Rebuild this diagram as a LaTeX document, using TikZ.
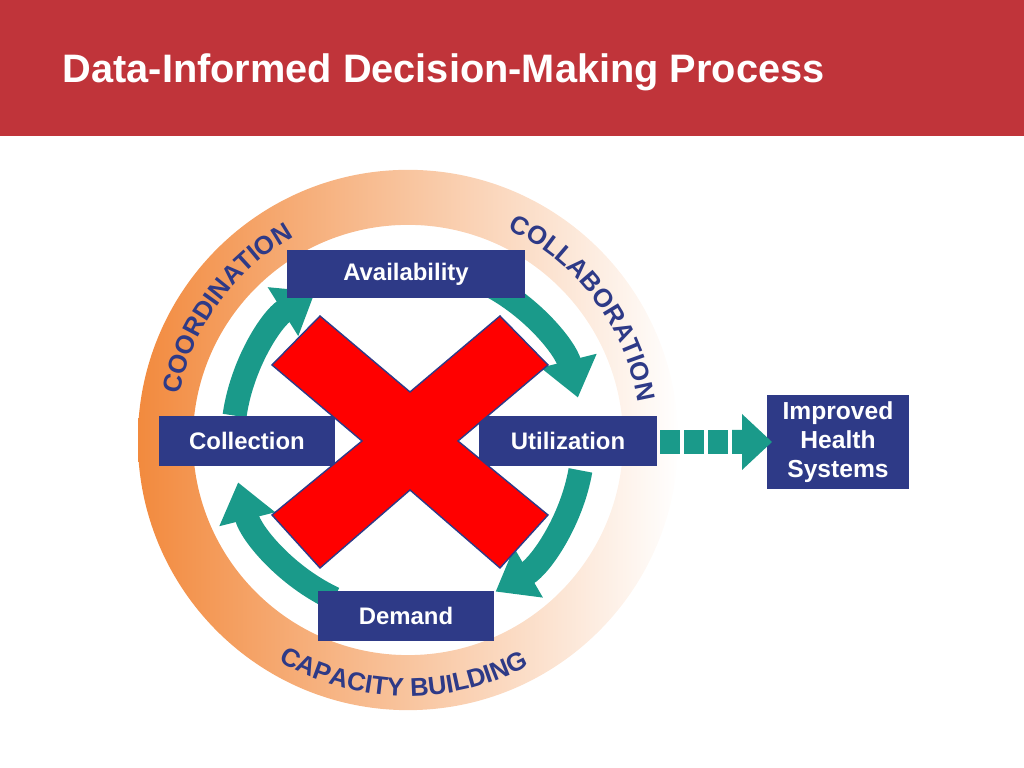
\documentclass[tikz,border=0pt]{standalone}
\usepackage{fontspec}
\setmainfont{Liberation Sans}
\usetikzlibrary{decorations.text,arrows.meta}
\definecolor{hdr}{HTML}{C0343A}
\definecolor{navy}{HTML}{2E3A87}
\definecolor{teal}{HTML}{1A9A8A}
\definecolor{ora}{HTML}{F28A3E}
\tikzset{
 box/.style={fill=navy,text=white,font=\bfseries\fontsize{6.8}{8}\selectfont,inner sep=0,align=center},
 cyc/.style={teal,line width=0.24cm,-{Triangle[width=0.55cm,length=0.38cm]}},
 ringtext/.style={decorate,decoration={text along path,text={#1},text align=center,text color=navy}},
}
\begin{document}
\begin{tikzpicture}[x=0.01cm,y=-0.01cm]
\useasboundingbox (0,0) rectangle (1024,768);
\fill[hdr] (0,0) rectangle (1024,136);
\node[anchor=west,inner sep=0,text=white,font=\bfseries\fontsize{11.3}{13}\selectfont] (title) at (62,72) {Data-Informed Decision-Making Process};
\coordinate (c) at (408,440);
\begin{scope}[even odd rule]
\clip (c) circle[radius=2.7cm] (c) circle[radius=2.15cm];
\shade[left color=ora,right color=white] (138,168) rectangle (680,712);
\end{scope}
% ring texts
\path[ringtext={|\bfseries\fontsize{7.3}{8}\selectfont|COORDINATION}] (c) ++(170:2.33cm) arc[start angle=170,end angle=118,radius=2.33cm];
\path[ringtext={|\bfseries\fontsize{7.3}{8}\selectfont|COLLABORATION}] (c) ++(66:2.33cm) arc[start angle=66,end angle=8,radius=2.33cm];
\path[ringtext={|\bfseries\fontsize{7.3}{8}\selectfont|CAPACITY BUILDING}] (c) ++(238:2.56cm) arc[start angle=238,end angle=300,radius=2.56cm];
% cycle arrows (clockwise on screen)
\draw[cyc] (c) ++(172:1.75cm) arc[start angle=172,end angle=122,radius=1.75cm];
\draw[cyc] (c) ++(63:1.75cm) arc[start angle=63,end angle=14,radius=1.75cm];
\draw[cyc] (c) ++(-10:1.75cm) arc[start angle=-10,end angle=-60,radius=1.75cm];
\draw[cyc] (c) ++(-115:1.75cm) arc[start angle=-115,end angle=-166,radius=1.75cm];
% boxes
\node[box,minimum width=2.37cm,minimum height=0.48cm] (av) at (406,274) {Availability};
\node[box,minimum width=1.75cm,minimum height=0.49cm] (co) at (247,441) {Collection};
\node[box,minimum width=1.77cm,minimum height=0.49cm] (ut) at (568,441) {Utilization};
\node[box,minimum width=1.75cm,minimum height=0.49cm] (de) at (406,616) {Demand};
\node[box,minimum width=1.41cm,minimum height=0.94cm,font=\bfseries\fontsize{7}{8.2}\selectfont] (ih) at (838,442) {Improved\\Health\\Systems};
% dashed arrow
\foreach \x in {660,684,708} \fill[teal] (\x,430) rectangle ++(20,24);
\coordinate (ae) at (772,442);
\fill[teal] (732,430) rectangle (742,454) (742,414) -- (ae) -- (742,470) -- cycle;
% red X
\fill[red,draw=navy,line width=0.4pt] (272,365) -- (320,316) -- (410,392) -- (500,316) -- (548,365) -- (458,441) -- (548,515) -- (500,568) -- (410,490) -- (320,568) -- (272,515) -- (362,441) -- cycle;
\end{tikzpicture}
\end{document}
